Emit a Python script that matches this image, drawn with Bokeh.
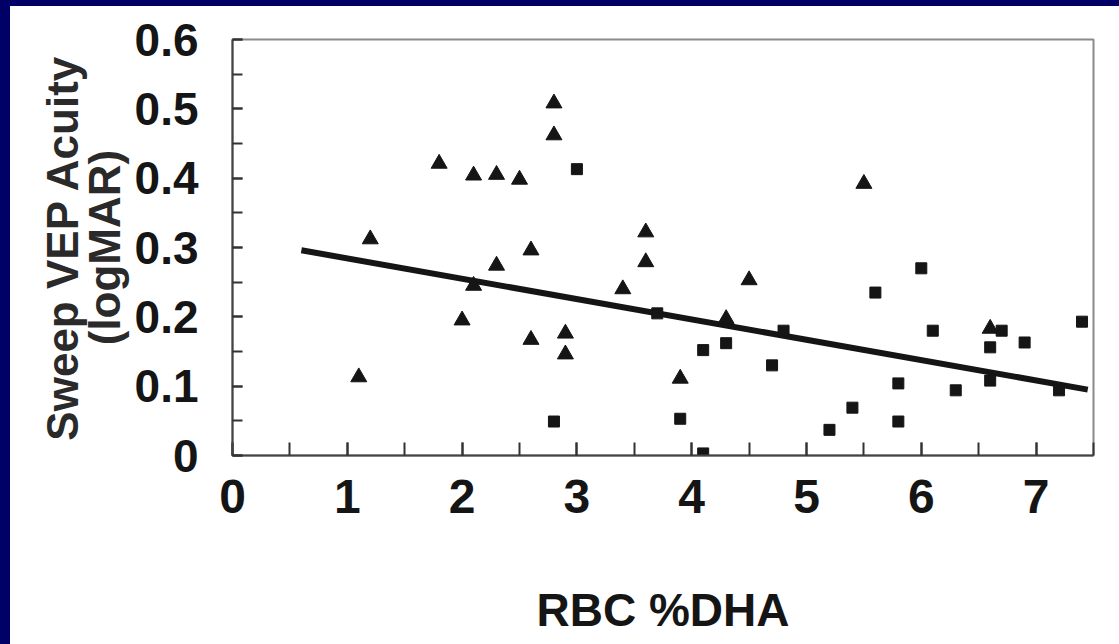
from bokeh.plotting import figure
from bokeh.layouts import column
from bokeh.models import Range1d, FixedTicker
from bokeh.embed import file_html
from bokeh.resources import INLINE

# ---- data ----
tri_x = [1.1, 1.2, 1.8, 2.0, 2.1, 2.1, 2.3, 2.3, 2.5, 2.6, 2.6, 2.8, 2.8,
         2.9, 2.9, 3.4, 3.6, 3.6, 3.9, 4.3, 4.5, 5.5, 6.6]
tri_y = [0.113, 0.312, 0.421, 0.195, 0.404, 0.245, 0.405, 0.274, 0.398,
         0.296, 0.167, 0.508, 0.462, 0.176, 0.146, 0.240, 0.322, 0.279,
         0.111, 0.197, 0.253, 0.392, 0.183]

sq_x = [2.8, 3.0, 3.7, 3.9, 4.1, 4.1, 4.3, 4.7, 4.8, 5.2, 5.4, 5.6, 5.8,
        5.8, 6.0, 6.1, 6.3, 6.6, 6.6, 6.7, 6.9, 7.2, 7.4]
sq_y = [0.049, 0.413, 0.205, 0.053, 0.152, 0.003, 0.162, 0.130, 0.180,
        0.037, 0.069, 0.235, 0.104, 0.049, 0.270, 0.180, 0.094, 0.156,
        0.108, 0.180, 0.163, 0.094, 0.193]

fit_x = [0.6, 7.45]
fit_y = [0.296, 0.095]

x_ticks = [0, 1, 2, 3, 4, 5, 6, 7]
y_ticks = [0, 0.1, 0.2, 0.3, 0.4, 0.5, 0.6]
y_tick_labels = ["0", "0.1", "0.2", "0.3", "0.4", "0.5", "0.6"]

x_title = "RBC %DHA"
y_title = "Sweep VEP Acuity\n(logMAR)"

FONT = "Liberation Sans"
INK = "#151515"
NAVY = "#000066"

p = figure(
    width=1109, height=638,
    frame_width=861, frame_height=416,
    min_border_left=222, min_border_right=26,
    min_border_top=33, min_border_bottom=189,
    x_range=Range1d(0, 7.5), y_range=Range1d(0, 0.6),
    output_backend="svg", toolbar_location=None,
    background_fill_color="white", border_fill_color="white",
)
p.margin = (6, 0, 0, 10)
p.grid.visible = False
p.outline_line_color = "#8a8a8a"
p.outline_line_width = 2

# x axis
xa = p.xaxis[0]
xa.ticker = FixedTicker(ticks=x_ticks,
                        minor_ticks=[v / 2 for v in range(0, 16)])
xa.axis_line_color = "#444444"
xa.axis_line_width = 2
xa.major_tick_in = 13
xa.major_tick_out = 0
xa.minor_tick_in = 13
xa.minor_tick_out = 0
xa.major_tick_line_color = "#333333"
xa.minor_tick_line_color = "#333333"
xa.major_tick_line_width = 2
xa.minor_tick_line_width = 2
xa.major_label_text_font = FONT
xa.major_label_text_font_style = "bold"
xa.major_label_text_font_size = "48px"
xa.major_label_text_color = INK
xa.major_label_standoff = 24
xa.axis_label = x_title
xa.axis_label_text_font = FONT
xa.axis_label_text_font_style = "bold"
xa.axis_label_text_font_size = "46px"
xa.axis_label_text_color = INK
xa.axis_label_standoff = 68

# y axis
ya = p.yaxis[0]
ya.ticker = FixedTicker(ticks=y_ticks,
                        minor_ticks=[v / 20 for v in range(0, 13)])
ya.major_label_overrides = dict(zip(y_ticks, y_tick_labels))
ya.axis_line_color = "#444444"
ya.axis_line_width = 2
ya.major_tick_in = 10
ya.major_tick_out = 0
ya.minor_tick_in = 10
ya.minor_tick_out = 0
ya.major_tick_line_color = "#333333"
ya.minor_tick_line_color = "#333333"
ya.major_tick_line_width = 2
ya.minor_tick_line_width = 2
ya.major_label_text_font = FONT
ya.major_label_text_font_style = "bold"
ya.major_label_text_font_size = "46px"
ya.major_label_text_color = INK
ya.major_label_standoff = 34
ya.axis_label = y_title
ya.axis_label_text_font = FONT
ya.axis_label_text_font_style = "bold"
ya.axis_label_text_font_size = "44px"
ya.axis_label_text_line_height = 0.85
ya.axis_label_text_color = "#2a2a2a"
ya.axis_label_standoff = 3

# data
p.line(fit_x, fit_y, line_color=INK, line_width=6)
p.scatter(tri_x, tri_y, marker="triangle", size=16,
          fill_color=INK, line_color=INK)
p.scatter(sq_x, sq_y, marker="square", size=11,
          fill_color=INK, line_color=INK)

page = column(p, styles={
    "background": ("linear-gradient(to right, %s 10px, transparent 10px), "
                   "linear-gradient(to bottom, %s 6px, white 6px)") % (NAVY, NAVY)
})

open("out.html", "w").write(file_html(page, INLINE))
